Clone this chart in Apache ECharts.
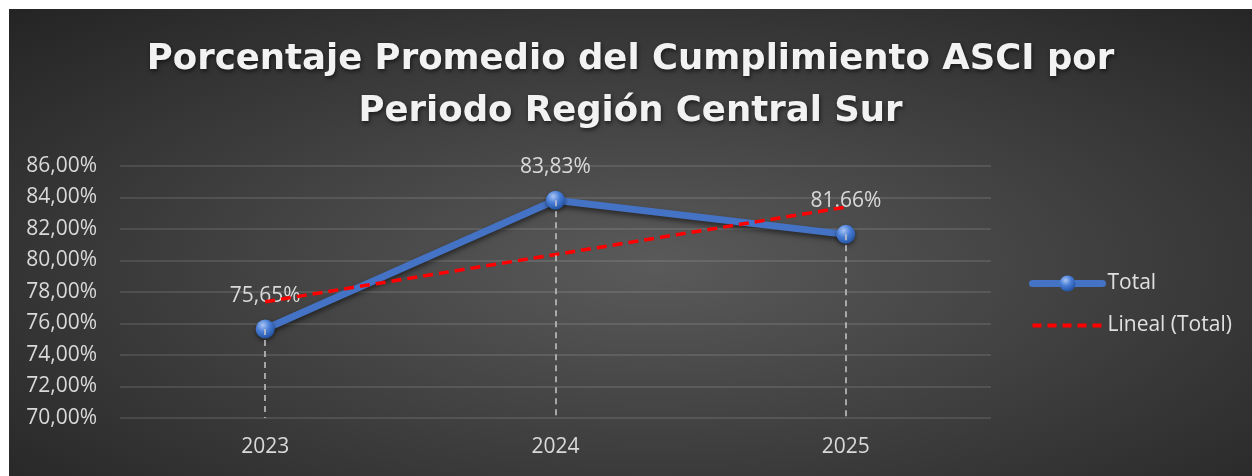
<!DOCTYPE html>
<html>
<head>
<meta charset="utf-8">
<script src="https://cdn.jsdelivr.net/npm/echarts@6/dist/echarts.min.js"></script>
<style>
    html, body { margin: 0; padding: 0; background: #fff; }
    #main {
        position: absolute;
        left: 9px;
        top: 9px;
        width: 1243px;
        height: 467px;
        background: radial-gradient(ellipse at 52% 55%, #5a5a5a 0%, #3c3c3c 55%, #242424 100%);
    }
</style>
</head>
<body>
<div id="main"></div>
<script>
// datos del grafico
const years = ['2023', '2024', '2025'];
const total = [75.65, 83.83, 81.66];
const totalLabels = ['75,65%', '83,83%', '81.66%'];
const lineal = [77.38, 80.38, 83.39];
const yMin = 70;
const yMax = 86;
const yStep = 2;

let myChart = echarts.init(document.getElementById('main'));

// lineas punteadas desde cada punto hasta el eje
let dropLines = [];
for (let p = 0; p < years.length; p++) {
    dropLines.push([
        { coord: [years[p], total[p]] },
        { coord: [years[p], yMin] }
    ]);
}

const sphere = {
    type: 'radial',
    x: 0.38,
    y: 0.3,
    r: 0.75,
    colorStops: [
        { offset: 0, color: '#a9c4f2' },
        { offset: 0.45, color: '#4a7fd8' },
        { offset: 1, color: '#1f4e9c' }
    ]
};

let option = {
    backgroundColor: 'transparent',
    title: {
        text: 'Porcentaje Promedio del Cumplimiento ASCI por\nPeriodo Región Central Sur',
        left: 'center',
        top: 20,
        textStyle: {
            color: '#f2f2f2',
            fontFamily: 'DejaVu Sans',
            fontWeight: 'bold',
            fontSize: 35.5,
            lineHeight: 52,
            textShadowColor: 'rgba(0,0,0,0.6)',
            textShadowBlur: 4,
            textShadowOffsetX: 1,
            textShadowOffsetY: 2
        }
    },
    legend: {
        orient: 'vertical',
        left: 1015,
        top: 259,
        itemWidth: 70,
        itemHeight: 20,
        itemGap: 21,
        textStyle: {
            color: '#e0e0e0',
            fontFamily: 'Open Sans',
            fontSize: 21
        },
        data: [
            {
                name: 'Total',
                lineStyle: { width: 7, color: '#4472c4', cap: 'round' },
                itemStyle: { color: sphere }
            },
            {
                name: 'Lineal (Total)',
                lineStyle: { width: 4, color: '#ff0000', type: [9, 6] },
                itemStyle: { color: 'rgba(0,0,0,0)', borderWidth: 0 }
            }
        ]
    },
    grid: {
        left: 111,
        right: 261,
        top: 157,
        bottom: 58
    },
    xAxis: {
        type: 'category',
        data: years,
        boundaryGap: true,
        axisLine: { show: false },
        axisTick: { show: false },
        axisLabel: {
            color: '#d9d9d9',
            fontFamily: 'Open Sans',
            fontSize: 21,
            margin: 19
        }
    },
    yAxis: {
        type: 'value',
        min: yMin,
        max: yMax,
        interval: yStep,
        axisLine: { show: false },
        axisTick: { show: false },
        axisLabel: {
            color: '#d9d9d9',
            fontFamily: 'Open Sans',
            fontSize: 21,
            margin: 23,
            formatter: (v) => v.toFixed(2).replace('.', ',') + '%'
        },
        splitLine: {
            lineStyle: {
                color: 'rgba(255,255,255,0.14)',
                width: 1.5
            }
        }
    },
    series: [
        {
            name: 'Total',
            type: 'line',
            data: total,
            symbol: 'circle',
            symbolSize: 19,
            z: 3,
            lineStyle: {
                color: '#4472c4',
                width: 7,
                shadowColor: 'rgba(0,0,0,0.5)',
                shadowBlur: 5,
                shadowOffsetY: 3
            },
            itemStyle: {
                color: sphere,
                borderWidth: 0,
                shadowColor: 'rgba(0,0,0,0.5)',
                shadowBlur: 4,
                shadowOffsetY: 2
            },
            label: {
                show: true,
                position: 'top',
                distance: 13,
                color: '#d9d9d9',
                fontFamily: 'Open Sans',
                fontSize: 21,
                formatter: (p) => totalLabels[p.dataIndex]
            },
            markLine: {
                silent: true,
                symbol: 'none',
                label: { show: false },
                lineStyle: {
                    color: '#c8c8c8',
                    type: [6, 5],
                    width: 1.5
                },
                data: dropLines
            }
        },
        {
            name: 'Lineal (Total)',
            type: 'line',
            data: lineal,
            symbol: 'none',
            z: 4,
            lineStyle: {
                color: '#ff0000',
                width: 3.5,
                type: [10, 6]
            },
            itemStyle: { color: '#ff0000' }
        }
    ]
};

myChart.setOption(option);
window.onresize = myChart.resize;
</script>
</body>
</html>
